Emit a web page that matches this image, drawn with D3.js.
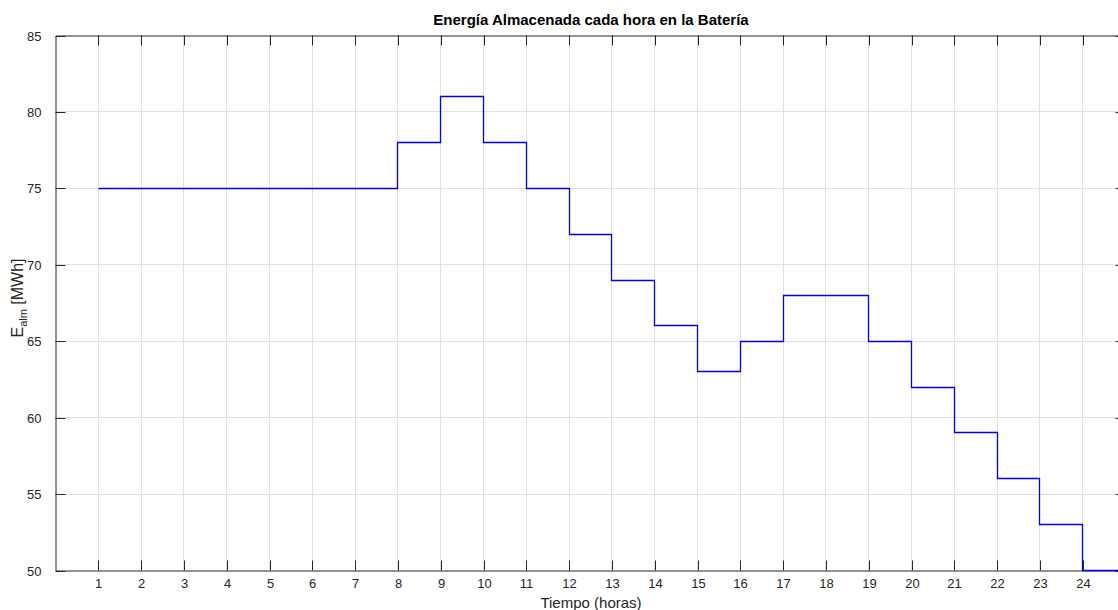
<!DOCTYPE html>
<html><head><meta charset="utf-8">
<script src="https://cdn.jsdelivr.net/npm/d3@7"></script>
<style>
html,body{margin:0;padding:0;background:#fff;}
svg{display:block;font-family:"Liberation Sans",Arial,Helvetica,sans-serif;}
</style></head>
<body>
<script>
const hours = [1,2,3,4,5,6,7,8,9,10,11,12,13,14,15,16,17,18,19,20,21,22,23,24];
const energy = [75,75,75,75,75,75,75,78,81,78,75,72,69,66,63,65,68,68,65,62,59,56,53,50];
const xTicks = [1,2,3,4,5,6,7,8,9,10,11,12,13,14,15,16,17,18,19,20,21,22,23,24];
const yTicks = [50,55,60,65,70,75,80,85];
const titleText = "Energía Almacenada cada hora en la Batería";
const xLabel = "Tiempo (horas)";

(function(){
const W = 1118, H = 610;
const svg = d3.select("body").append("svg").attr("width", W).attr("height", H);

const x = d3.scaleLinear().domain([0, 25]).range([55.5, 1125.5]);
const y = d3.scaleLinear().domain([50, 85]).range([570.5, 35.5]);
const px = v => Math.round(x(v) - 0.5) + 0.5;
const py = v => Math.round(y(v) - 0.5) + 0.5;

const axisColor = "#262626";
const gridColor = "#e1e1e1";

const grid = svg.append("g");
grid.selectAll("line.gx").data(xTicks).join("line")
  .attr("x1", d => px(d)).attr("x2", d => px(d))
  .attr("y1", py(85)).attr("y2", py(50))
  .attr("stroke", gridColor).attr("stroke-width", 1);
grid.selectAll("line.gy").data(yTicks.filter(v => v > 50 && v < 85)).join("line")
  .attr("x1", px(0)).attr("x2", px(25))
  .attr("y1", d => py(d)).attr("y2", d => py(d))
  .attr("stroke", gridColor).attr("stroke-width", 1);

function styleAxis(g, showText) {
  g.select(".domain").attr("stroke", axisColor).attr("stroke-width", 1);
  g.selectAll(".tick line").attr("stroke", axisColor).attr("stroke-width", 1);
  g.selectAll(".tick").attr("transform", function(){
    const t = d3.select(this).attr("transform");
    return t.replace(/translate\(([-\d.]+),([-\d.]+)\)/, (m, a, b) =>
      `translate(${a === "0" ? 0 : Math.round(+a - 0.5) + 0.5},${b === "0" ? 0 : Math.round(+b - 0.5) + 0.5})`);
  });
  g.selectAll(".tick text").attr("fill", axisColor).attr("font-size", 13)
    .attr("font-family", "Liberation Sans, Arial, sans-serif");
  if (!showText) g.selectAll(".tick text").remove();
}

const gBottom = svg.append("g").attr("transform", `translate(0,${py(50)})`)
  .call(d3.axisBottom(x).tickValues(xTicks).tickFormat(d3.format("d")).tickSizeInner(-10).tickSizeOuter(0).tickPadding(16));
styleAxis(gBottom, true);
gBottom.selectAll(".tick text").attr("dy", "0.15em");

const gTop = svg.append("g").attr("transform", `translate(0,${py(85)})`)
  .call(d3.axisTop(x).tickValues(xTicks).tickSizeInner(-10).tickSizeOuter(0));
styleAxis(gTop, false);

const gLeft = svg.append("g").attr("transform", `translate(${px(0)},0)`)
  .call(d3.axisLeft(y).tickValues(yTicks).tickFormat(d3.format("d")).tickSizeInner(-10).tickSizeOuter(0).tickPadding(14));
styleAxis(gLeft, true);

const gRight = svg.append("g").attr("transform", `translate(${px(25)},0)`)
  .call(d3.axisRight(y).tickValues(yTicks).tickSizeInner(-10).tickSizeOuter(0));
styleAxis(gRight, false);

const pts = hours.map((h, i) => [h, energy[i]]);
pts.push([25, energy[energy.length - 1]]);
const line = d3.line().x(d => px(d[0])).y(d => py(d[1])).curve(d3.curveStepAfter);
svg.append("path").datum(pts).attr("d", line)
  .attr("fill", "none").attr("stroke", "#0000ff").attr("stroke-width", 1.3);

svg.append("text").attr("x", 591).attr("y", 25).attr("text-anchor", "middle")
  .attr("font-size", 15).attr("font-weight", "bold").attr("fill", "#000")
  .text(titleText);

svg.append("text").attr("x", 591).attr("y", 608).attr("text-anchor", "middle")
  .attr("font-size", 15).attr("fill", axisColor).text(xLabel);

const yl = svg.append("text").attr("transform", "translate(23,298) rotate(-90)")
  .attr("text-anchor", "middle").attr("font-size", 16).attr("fill", axisColor);
yl.append("tspan").text("E");
yl.append("tspan").attr("font-size", 11).attr("dy", 4).text("alm");
yl.append("tspan").attr("dy", -4).text(" [MWh]");
})();
</script>
</body></html>
